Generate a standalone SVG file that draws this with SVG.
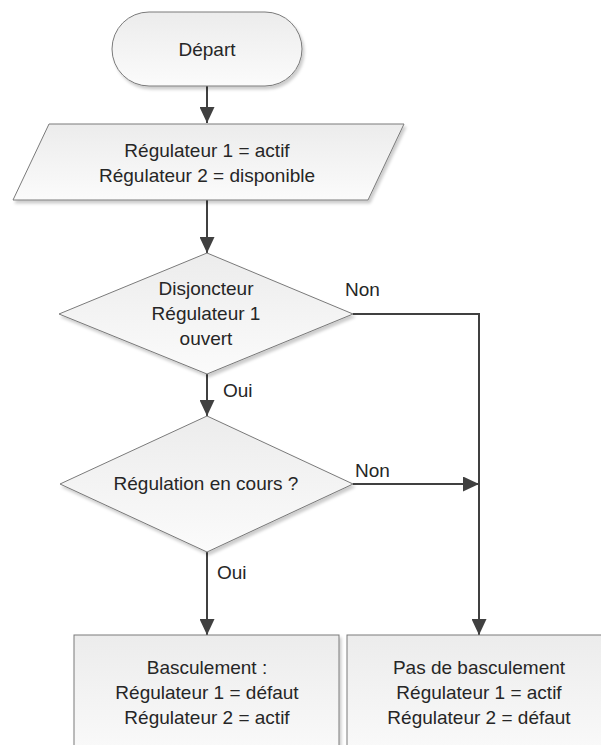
<svg xmlns="http://www.w3.org/2000/svg" width="601" height="745" viewBox="0 0 601 745">
  <style>
    .shape { fill: url(#grad); stroke: #7a7a7a; stroke-width: 1; filter: url(#shadow); }
    .conn { fill: none; stroke: #404040; stroke-width: 2; }
    text { font-family: "Liberation Sans", Arial, sans-serif; font-size: 19px; fill: #262626; }
    .c { text-anchor: middle; }
  </style>
  <defs>
    <linearGradient id="grad" x1="0" y1="0" x2="0" y2="1">
      <stop offset="0" stop-color="#ececec"/>
      <stop offset="1" stop-color="#fbfbfb"/>
    </linearGradient>
    <filter id="shadow" x="-10%" y="-10%" width="130%" height="130%">
      <feDropShadow dx="2" dy="3" stdDeviation="1.5" flood-color="#000000" flood-opacity="0.2"/>
    </filter>
    <marker id="arrow" markerUnits="userSpaceOnUse" markerWidth="16" markerHeight="15" refX="16" refY="7.5" orient="auto">
      <path d="M0,0 L16,7.5 L0,15 z" fill="#404040"/>
    </marker>
  </defs>
  <rect width="601" height="745" fill="#ffffff"/>

  <g id="connectors">
    <path class="conn" d="M207,86 L207,123" marker-end="url(#arrow)"/>
    <path class="conn" d="M207,200 L207,253" marker-end="url(#arrow)"/>
    <path class="conn" d="M207,374 L207,416" marker-end="url(#arrow)"/>
    <path class="conn" d="M353,314 L479,314 L479,635" marker-end="url(#arrow)"/>
    <path class="conn" d="M353,484 L479,484" marker-end="url(#arrow)"/>
    <path class="conn" d="M207,552 L207,635" marker-end="url(#arrow)"/>
    <text x="345" y="296">Non</text>
    <text x="223" y="397">Oui</text>
    <text x="355" y="477">Non</text>
    <text x="217" y="579">Oui</text>
  </g>

  <g id="start">
    <rect class="shape" x="112" y="12" width="190" height="74" rx="37" ry="37"/>
    <text class="c" x="207" y="56">Départ</text>
  </g>

  <g id="init">
    <polygon class="shape" points="49,124 404,124 368,200 13,200"/>
    <text class="c" x="207" y="157">Régulateur 1 = actif</text>
    <text class="c" x="207" y="182">Régulateur 2 = disponible</text>
  </g>

  <g id="decision1">
    <polygon class="shape" points="207,253 353,314 207,374 59,314"/>
    <text class="c" x="206" y="295">Disjoncteur</text>
    <text class="c" x="206" y="320">Régulateur 1</text>
    <text class="c" x="206" y="345">ouvert</text>
  </g>

  <g id="decision2">
    <polygon class="shape" points="207,416 353,484 207,552 60,484"/>
    <text class="c" x="206" y="490">Régulation en cours ?</text>
  </g>

  <g id="switch">
    <rect class="shape" x="74" y="635" width="265" height="130"/>
    <text class="c" x="207" y="674">Basculement :</text>
    <text class="c" x="207" y="699">Régulateur 1 = défaut</text>
    <text class="c" x="207" y="724">Régulateur 2 = actif</text>
  </g>

  <g id="noswitch">
    <rect class="shape" x="347" y="635" width="265" height="130"/>
    <text class="c" x="479" y="674">Pas de basculement</text>
    <text class="c" x="479" y="699">Régulateur 1 = actif</text>
    <text class="c" x="479" y="724">Régulateur 2 = défaut</text>
  </g>
</svg>
